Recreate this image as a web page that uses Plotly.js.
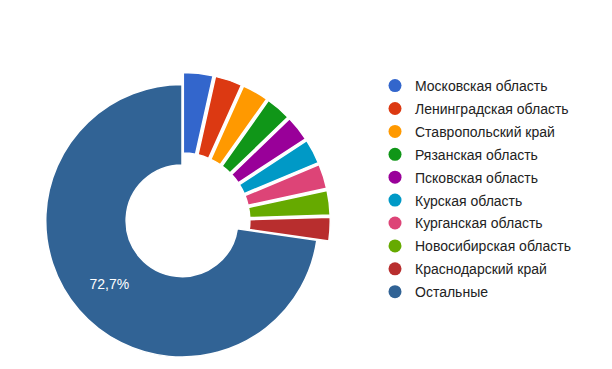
<!DOCTYPE html>
<html>
<head>
<meta charset="utf-8">
<script src="https://cdn.plot.ly/plotly-3.0.1.min.js"></script>
<style>html,body{margin:0;padding:0;background:#fff;}#chart{width:612px;height:369px;}</style>
</head>
<body>
<div id="chart"></div>
<script>
const regions = ["Московская область","Ленинградская область","Ставропольский край","Рязанская область","Псковская область","Курская область","Курганская область","Новосибирская область","Краснодарский край","Остальные"];
const shares = [3.5, 3.2, 3.1, 3.0, 3.0, 2.9, 2.9, 2.9, 2.8, 72.7];
const colors = ["#3366cc","#dc3912","#ff9900","#109618","#990099","#0099c6","#dd4477","#66aa00","#b82e2e","#316395"];
const pulled = [true, true, true, true, true, true, true, true, true, false];
const labelShown = [false, false, false, false, false, false, false, false, false, true];

const W = 612, H = 369;
const pie = {
  type: 'pie',
  labels: regions,
  values: shares,
  sort: false,
  direction: 'clockwise',
  rotation: 0,
  hole: 0.41,
  pull: pulled.map(p => p ? 0.088 : 0),
  marker: {colors: colors, line: {color: '#ffffff', width: 1.5}},
  texttemplate: labelShown.map(s => s ? '%{percent:.1%}' : ''),
  textposition: 'inside',
  insidetextorientation: 'horizontal',
  insidetextfont: {family: 'Liberation Sans, Arial, sans-serif', size: 14, color: '#ffffff'},
  showlegend: false,
  hoverinfo: 'label+percent',
  domain: {x: [33.5 / W, 330.5 / W], y: [0, 296.5 / H]}
};

const legendProxies = regions.map((r, i) => ({
  type: 'scatter',
  mode: 'markers',
  x: [null], y: [null],
  name: r,
  legendgroup: 'g' + i,
  marker: {color: colors[i], size: 13, symbol: 'circle'},
  showlegend: true,
  hoverinfo: 'skip'
}));

const layout = {
  width: W, height: H,
  margin: {l: 0, r: 0, t: 0, b: 0},
  paper_bgcolor: '#ffffff',
  plot_bgcolor: '#ffffff',
  separators: ', ',
  font: {family: 'Liberation Sans, Arial, sans-serif', size: 14, color: '#222222'},
  xaxis: {visible: false, domain: [0.99, 1]},
  yaxis: {visible: false, domain: [0.99, 1]},
  legend: {
    x: 375 / W, xanchor: 'left',
    y: (H - 70) / H, yanchor: 'top',
    font: {family: 'Liberation Sans, Arial, sans-serif', size: 14, color: '#222222'},
    tracegroupgap: 1.7,
    traceorder: 'grouped',
    itemclick: false,
    bgcolor: 'rgba(0,0,0,0)'
  }
};

Plotly.newPlot('chart', [pie].concat(legendProxies), layout, {displayModeBar: false, staticPlot: true});
</script>
</body>
</html>
